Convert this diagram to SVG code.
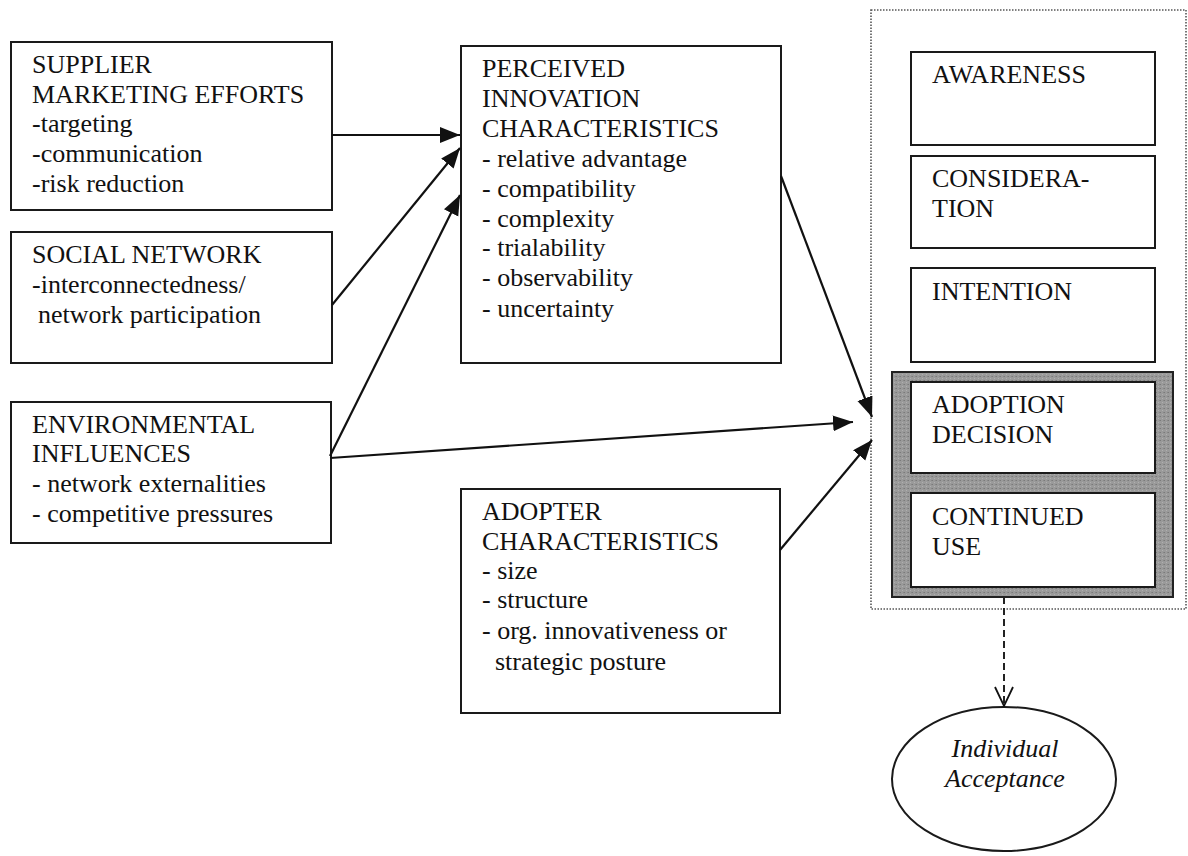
<svg xmlns="http://www.w3.org/2000/svg" width="1188" height="856" viewBox="0 0 1188 856">
<style>
.box{fill:#fff;stroke:#1a1a1a;stroke-width:2}
.t{font-family:'Liberation Serif','DejaVu Serif',serif;font-size:26px;fill:#111}
.ti{font-family:'Liberation Serif','DejaVu Serif',serif;font-size:26px;font-style:italic;fill:#111}
.ln{stroke:#111;stroke-width:2.2;fill:none}
</style>
<defs>
<marker id="ah" markerWidth="22" markerHeight="18" refX="20" refY="8" orient="auto" markerUnits="userSpaceOnUse">
<path d="M0,0 L20,8 L0,16 Z" fill="#111"/>
</marker>
<marker id="oh" markerWidth="22" markerHeight="24" refX="10" refY="20" orient="0" markerUnits="userSpaceOnUse">
<path d="M1,1 L10,20 L19,1" fill="none" stroke="#111" stroke-width="1.8"/>
</marker>
<pattern id="grain" width="4" height="4" patternUnits="userSpaceOnUse">
<rect width="4" height="4" fill="#9a9a9a"/>
<rect x="0" y="0" width="1" height="1" fill="#7a7a7a"/>
<rect x="2" y="2" width="1" height="1" fill="#b0b0b0"/>
<rect x="3" y="0" width="1" height="1" fill="#888"/>
</pattern>
</defs>
<rect width="1188" height="856" fill="#fff"/>

<g id="stages-container">
<rect x="871" y="10" width="315" height="599" fill="none" stroke="#555" stroke-width="1.6" stroke-dasharray="1.5,1.5"/>
</g>

<g id="supplier">
<rect class="box" x="11" y="42" width="321" height="168"/>
<text class="t" x="32" y="73">SUPPLIER</text>
<text class="t" x="32" y="103">MARKETING EFFORTS</text>
<text class="t" x="32" y="132">-targeting</text>
<text class="t" x="32" y="162">-communication</text>
<text class="t" x="32" y="192">-risk reduction</text>
</g>

<g id="social">
<rect class="box" x="11" y="232" width="321" height="131"/>
<text class="t" x="32" y="263">SOCIAL NETWORK</text>
<text class="t" x="32" y="293">-interconnectedness/</text>
<text class="t" x="38" y="323">network participation</text>
</g>

<g id="environment">
<rect class="box" x="11" y="402" width="320" height="141"/>
<text class="t" x="32" y="433">ENVIRONMENTAL</text>
<text class="t" x="32" y="462">INFLUENCES</text>
<text class="t" x="32" y="492">- network externalities</text>
<text class="t" x="32" y="522">- competitive pressures</text>
</g>

<g id="perceived">
<rect class="box" x="461" y="46" width="320" height="317"/>
<text class="t" x="482" y="77">PERCEIVED</text>
<text class="t" x="482" y="107">INNOVATION</text>
<text class="t" x="482" y="137">CHARACTERISTICS</text>
<text class="t" x="482" y="167">- relative advantage</text>
<text class="t" x="482" y="197">- compatibility</text>
<text class="t" x="482" y="227">- complexity</text>
<text class="t" x="482" y="256">- trialability</text>
<text class="t" x="482" y="286">- observability</text>
<text class="t" x="482" y="317">- uncertainty</text>
</g>

<g id="adopter">
<rect class="box" x="461" y="489" width="319" height="224"/>
<text class="t" x="482" y="520">ADOPTER</text>
<text class="t" x="482" y="550">CHARACTERISTICS</text>
<text class="t" x="482" y="579">- size</text>
<text class="t" x="482" y="608">- structure</text>
<text class="t" x="482" y="639">- org. innovativeness or</text>
<text class="t" x="495" y="670">strategic posture</text>
</g>

<g id="awareness">
<rect class="box" x="911" y="52" width="244" height="93"/>
<text class="t" x="932" y="83">AWARENESS</text>
</g>

<g id="consideration">
<rect class="box" x="911" y="156" width="244" height="92"/>
<text class="t" x="932" y="187">CONSIDERA-</text>
<text class="t" x="932" y="217">TION</text>
</g>

<g id="intention">
<rect class="box" x="911" y="268" width="244" height="94"/>
<text class="t" x="932" y="300">INTENTION</text>
</g>

<g id="adoption-group">
<rect x="892" y="372" width="281" height="225" fill="url(#grain)" stroke="#222" stroke-width="2"/>
</g>

<g id="adoption-decision">
<rect class="box" x="911" y="382" width="244" height="91"/>
<text class="t" x="932" y="413">ADOPTION</text>
<text class="t" x="932" y="443">DECISION</text>
</g>

<g id="continued-use">
<rect class="box" x="911" y="493" width="244" height="94"/>
<text class="t" x="932" y="525">CONTINUED</text>
<text class="t" x="932" y="555">USE</text>
</g>

<g id="acceptance">
<ellipse cx="1004" cy="779" rx="112" ry="72" fill="#fff" stroke="#1a1a1a" stroke-width="2"/>
<text class="ti" x="1005" y="757" text-anchor="middle">Individual</text>
<text class="ti" x="1005" y="787" text-anchor="middle">Acceptance</text>
</g>

<g id="connectors">
<line class="ln" x1="332" y1="135" x2="460" y2="135" marker-end="url(#ah)"/>
<line class="ln" x1="332" y1="305" x2="460" y2="148" marker-end="url(#ah)"/>
<line class="ln" x1="330" y1="456" x2="460" y2="195" marker-end="url(#ah)"/>
<line class="ln" x1="330" y1="458" x2="853" y2="422" marker-end="url(#ah)"/>
<line class="ln" x1="781" y1="176" x2="872" y2="417" marker-end="url(#ah)"/>
<line class="ln" x1="780" y1="550" x2="872" y2="440" marker-end="url(#ah)"/>
<line x1="1004" y1="597" x2="1004" y2="706" stroke="#222" stroke-width="2" stroke-dasharray="7,4" marker-end="url(#oh)"/>
</g>
</svg>
